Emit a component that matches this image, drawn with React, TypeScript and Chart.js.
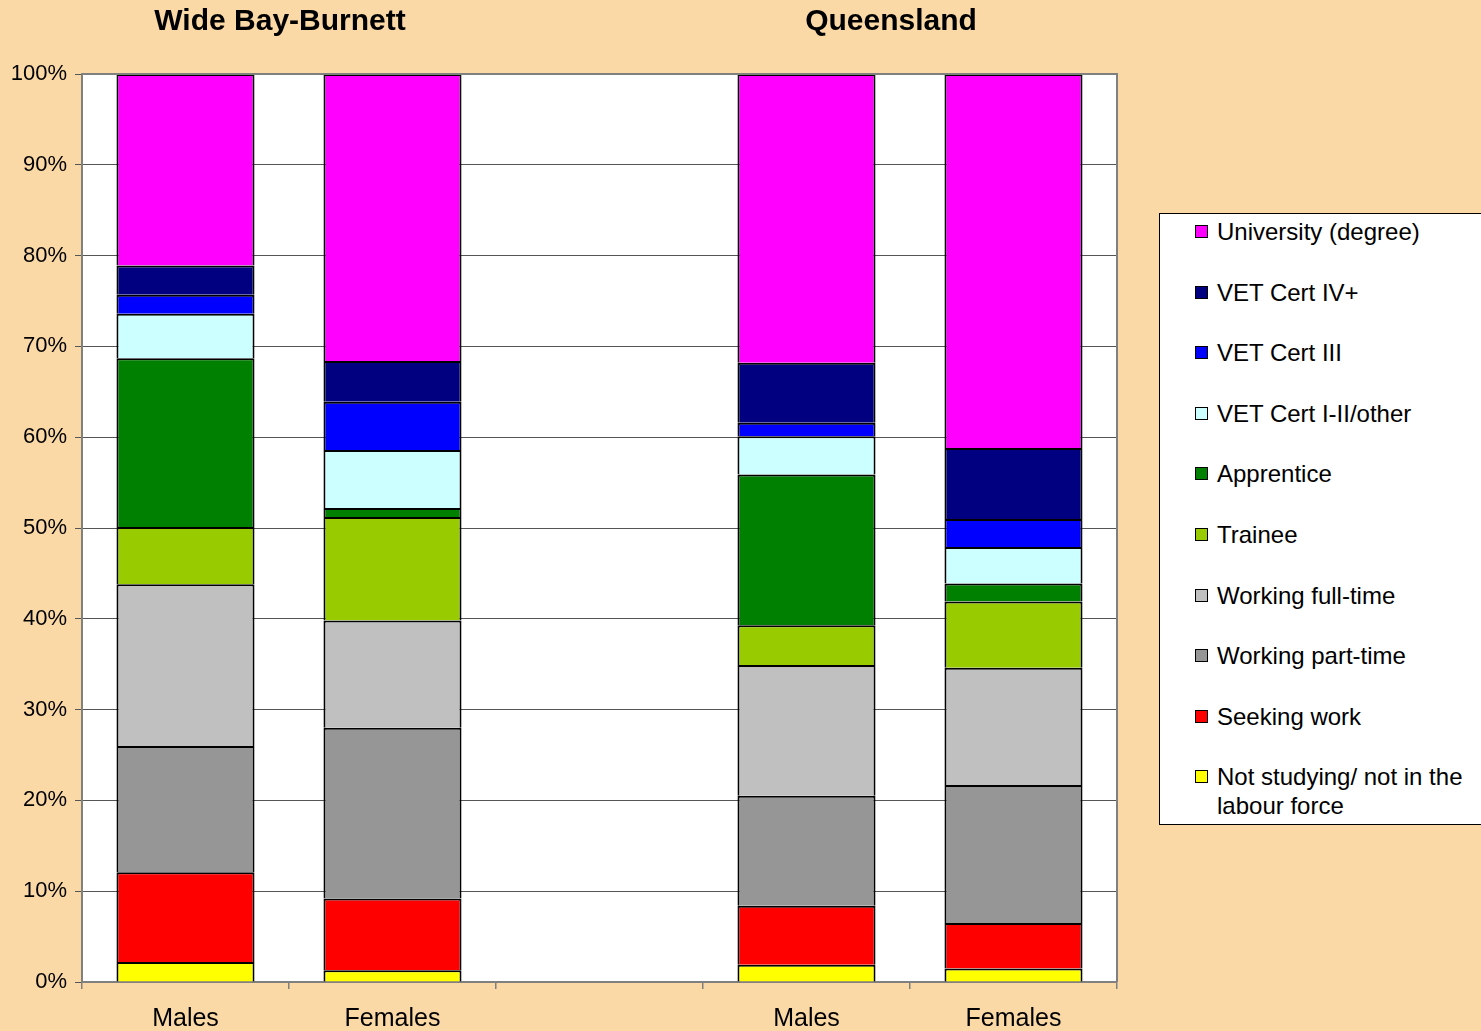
import React, { useEffect, useRef } from "react";
import { Chart, registerables } from "chart.js";

Chart.register(...registerables);

const categories = ["Males", "Females", "", "Males", "Females"];
const groupTitles = ["Wide Bay-Burnett", "Queensland"];
const yTicks = [0, 10, 20, 30, 40, 50, 60, 70, 80, 90, 100];

// stacked from bottom to top
const seriesNames = [
  "Not studying/ not in the labour force",
  "Seeking work",
  "Working part-time",
  "Working full-time",
  "Trainee",
  "Apprentice",
  "VET Cert I-II/other",
  "VET Cert III",
  "VET Cert IV+",
  "University (degree)",
];
const legendLabels = [
  ["Not studying/ not in the", "labour force"],
  ["Seeking work"],
  ["Working part-time"],
  ["Working full-time"],
  ["Trainee"],
  ["Apprentice"],
  ["VET Cert I-II/other"],
  ["VET Cert III"],
  ["VET Cert IV+"],
  ["University (degree)"],
];
const seriesColors = [
  "#FFFF00",
  "#FF0000",
  "#969696",
  "#C0C0C0",
  "#99CC00",
  "#008000",
  "#CCFFFF",
  "#0000FF",
  "#000080",
  "#FF00FF",
];

const notStudying = [2.2, 1.3, null, 1.9, 1.5];
const seekingWork = [9.9, 7.9, null, 6.5, 5.0];
const workingPartTime = [13.9, 18.8, null, 12.1, 15.2];
const workingFullTime = [17.8, 11.8, null, 14.4, 12.9];
const trainee = [6.3, 11.4, null, 4.4, 7.3];
const apprentice = [18.6, 1.0, null, 16.6, 2.0];
const vetCert12 = [4.9, 6.4, null, 4.2, 4.0];
const vetCert3 = [2.1, 5.3, null, 1.5, 3.1];
const vetCert4 = [3.2, 4.5, null, 6.6, 7.8];
const university = [21.1, 31.6, null, 31.8, 41.2];

const seriesValues = [
  notStudying,
  seekingWork,
  workingPartTime,
  workingFullTime,
  trainee,
  apprentice,
  vetCert12,
  vetCert3,
  vetCert4,
  university,
];

const FONT = "'Liberation Sans', Arial, Helvetica, sans-serif";
const BG = "#FBD9A6";

const plotPlugin = {
  id: "plotDecor",
  beforeDraw(chart: any) {
    const { ctx, chartArea } = chart;
    ctx.save();
    ctx.fillStyle = "#FFFFFF";
    ctx.fillRect(
      chartArea.left,
      chartArea.top,
      chartArea.right - chartArea.left,
      chartArea.bottom - chartArea.top
    );
    ctx.restore();
  },
  afterDraw(chart: any) {
    const { ctx, chartArea, scales } = chart;
    ctx.save();
    ctx.strokeStyle = "#808080";
    ctx.lineWidth = 2;
    ctx.beginPath();
    ctx.moveTo(chartArea.left, chartArea.top);
    ctx.lineTo(chartArea.right, chartArea.top);
    ctx.lineTo(chartArea.right, chartArea.bottom);
    ctx.stroke();
    // group titles
    ctx.fillStyle = "#000";
    ctx.font = `bold 30px ${FONT}`;
    ctx.textAlign = "center";
    ctx.textBaseline = "middle";
    const x = scales.x;
    const c1 = x.getPixelForValue(0.5) - 9;
    const c2 = x.getPixelForValue(3.5) - 19;
    ctx.fillText(groupTitles[0], c1, 22);
    ctx.fillText(groupTitles[1], c2, 22);
    ctx.restore();
  },
};

export default function App() {
  const ref = useRef<HTMLCanvasElement | null>(null);

  useEffect(() => {
    document.body.style.margin = "0";
    document.body.style.background = BG;
    const canvas = ref.current;
    if (!canvas) return;
    const chart = new Chart(canvas, {
      type: "bar",
      data: {
        labels: categories,
        datasets: seriesNames.map((name, i) => ({
          label: name,
          data: seriesValues[i] as any,
          backgroundColor: seriesColors[i],
          borderColor: "#000000",
          borderWidth: 2,
          borderSkipped: "start",
          categoryPercentage: 1,
          barPercentage: 0.667,
        })),
      },
      options: {
        animation: false,
        responsive: false,
        maintainAspectRatio: false,
        layout: { padding: { top: 74, right: 364, left: 0, bottom: 0 } },
        plugins: {
          legend: { display: false },
          tooltip: { enabled: false },
          title: { display: false },
        },
        scales: {
          x: {
            stacked: true,
            offset: true,
            grid: {
              offset: true,
              drawOnChartArea: false,
              drawTicks: true,
              tickLength: 7,
              color: "#808080",
              lineWidth: 1.5,
            },
            border: { color: "#808080", width: 2 },
            ticks: {
              color: "#000",
              font: { family: FONT, size: 25 },
              padding: 15,
              maxRotation: 0,
              autoSkip: false,
            },
            afterFit(scale: any) {
              scale.height = 49;
            },
          },
          y: {
            stacked: true,
            min: 0,
            max: 100,
            afterBuildTicks(scale: any) {
              scale.ticks = yTicks.map((v) => ({ value: v }));
            },
            grid: {
              color: "#555555",
              lineWidth: 1,
              tickLength: 7,
            },
            border: { color: "#808080", width: 2 },
            ticks: {
              color: "#000",
              font: { family: FONT, size: 22 },
              padding: 8,
              callback: (v: any) => `${v}%`,
            },
            afterFit(scale: any) {
              scale.width = 82;
            },
          },
        },
      },
      plugins: [plotPlugin],
    });
    return () => chart.destroy();
  }, []);

  const legendOrder = seriesNames.map((_, i) => seriesNames.length - 1 - i);

  return (
    <div
      style={{
        position: "relative",
        width: 1481,
        height: 1031,
        overflow: "hidden",
        background: BG,
        fontFamily: FONT,
      }}
    >
      <canvas
        ref={ref}
        width={1481}
        height={1031}
        style={{ position: "absolute", left: 0, top: 0, width: 1481, height: 1031 }}
      />
      <div
        style={{
          position: "absolute",
          left: 1159,
          top: 213,
          width: 340,
          height: 612,
          background: "#FFFFFF",
          border: "1px solid #000",
          boxSizing: "border-box",
        }}
      >
        {legendOrder.map((idx, row) => (
          <div
            key={idx}
            style={{
              position: "absolute",
              left: 0,
              top: 3 + row * 60.6,
              width: "100%",
            }}
          >
            <div
              style={{
                position: "absolute",
                left: 35,
                top: 8,
                width: 13,
                height: 13,
                background: seriesColors[idx],
                border: "1px solid #000",
                boxSizing: "border-box",
              }}
            />
            <div
              style={{
                position: "absolute",
                left: 57,
                top: 0,
                fontSize: 24,
                lineHeight: "29px",
                color: "#000",
                whiteSpace: "nowrap",
              }}
            >
              {legendLabels[idx].map((l, k) => (
                <div key={k}>{l}</div>
              ))}
            </div>
          </div>
        ))}
      </div>
    </div>
  );
}
